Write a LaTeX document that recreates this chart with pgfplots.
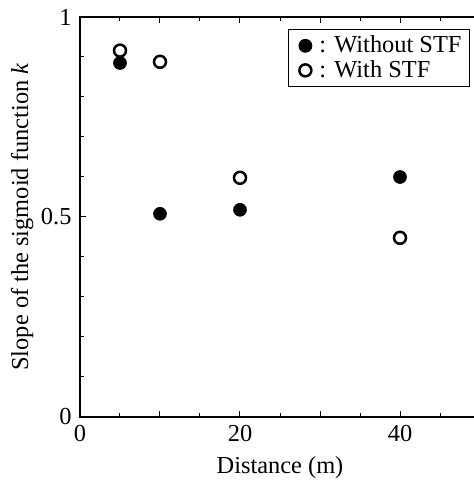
\documentclass[border=0pt]{standalone}
\usepackage{fontspec}
\setmainfont{Liberation Serif}
\usepackage{pgfplots}
\pgfplotsset{compat=1.18}
\begin{document}
\fontsize{12.2}{14}\selectfont
\begin{tikzpicture}
\begin{axis}[
  scale only axis, width=200pt, height=200pt,
  xmin=0, xmax=50, ymin=0, ymax=1,
  xtick={0,10,20,30,40,50}, xticklabels={0,,20,,40,},
  minor x tick num=1,
  ytick={0,0.5,1}, yticklabels={0,0.5,1},
  minor y tick num=4,
  tick align=inside,
  major tick length=3pt, minor tick length=2.2pt,
  tick style={black, line width=0.5pt},
  axis line style={line width=0.6pt},
  /pgf/number format/assume math mode=true,
  ticklabel style={font=\fontsize{12.2}{14}\selectfont},
  label style={font=\fontsize{12.2}{14}\selectfont},
  xlabel={Distance (m)},
  ylabel={Slope of the sigmoid function \textit{k}},
  xlabel style={yshift=1pt},
  ylabel style={yshift=-4.5pt},
  legend style={at={(rel axis cs:1,1)}, anchor=north east, xshift=-5pt, yshift=-6pt,
    draw=black, line width=0.5pt, inner xsep=2pt, inner ysep=1pt, row sep=-2pt,
    font=\fontsize{12.2}{14}\selectfont, cells={anchor=west}},
  legend image code/.code={\draw[only marks,#1] plot coordinates {(0cm,0cm)}; \path (-5.7pt,0pt) (4.4pt,0pt);},
]
\coordinate (O) at (rel axis cs:0,0);
\addplot[only marks, mark=*, mark size=3.2pt, black] coordinates {
  (5,0.885) (10,0.508) (20,0.518) (40,0.600)
};
\addlegendentry{: Without STF}
\addplot[only marks, mark=o, mark size=3.0pt, line width=1.25pt, black] coordinates {
  (5,0.916) (10,0.888) (20,0.598) (40,0.448)
};
\addlegendentry{: With STF}
\end{axis}
\pgfresetboundingbox
\useasboundingbox ([shift={(-40pt,-32pt)}]O) rectangle ([shift={(196.5pt,208.5pt)}]O);
\end{tikzpicture}
\end{document}
